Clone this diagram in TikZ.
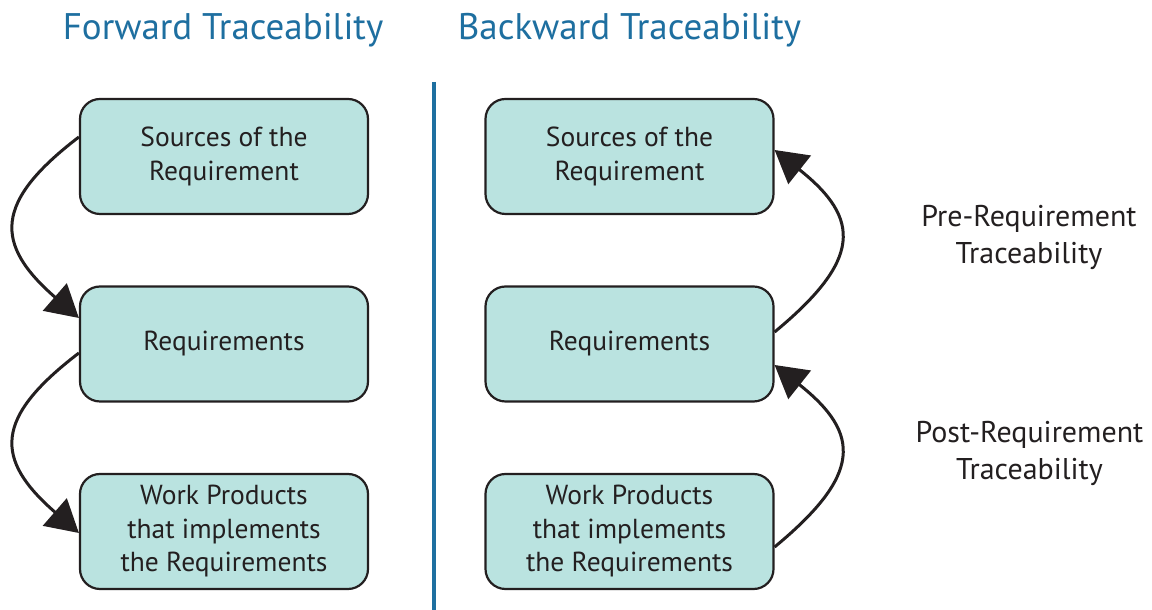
\documentclass[tikz,border=0pt]{standalone}
\usepackage{fontspec}
\setmainfont{PT Sans}
\usetikzlibrary{arrows.meta,calc}
\definecolor{boxfill}{HTML}{BAE3E0}
\definecolor{boxline}{HTML}{231F20}
\definecolor{titleblue}{HTML}{1E6FA0}
\begin{document}
\begin{tikzpicture}[x=1pt,y=1pt,
  tbox/.style={draw=boxline,line width=2.2pt,fill=boxfill,rounded corners=20pt,
    minimum width=288pt,minimum height=115pt,align=center,text=boxline,
    font=\fontsize{27.5}{33.5}\selectfont,inner sep=0pt},
  ttitle/.style={text=titleblue,font=\fontsize{37}{44}\selectfont,inner sep=0pt},
  tlabel/.style={text=boxline,align=center,font=\fontsize{30}{37}\selectfont,inner sep=0pt},
  tarrow/.style={line width=3pt,draw=boxline,-{Triangle[length=32pt,width=36pt]}}]
\useasboundingbox (0,0) rectangle (1152,610);
\node[ttitle] (tf) at (223,580) {Forward Traceability};
\node[ttitle] (tb) at (629.5,580) {Backward Traceability};
\coordinate (dtop) at (434,528);
\coordinate (dbot) at (434,0);
\draw[titleblue,line width=4.5pt] (dtop) -- (dbot);
% left column
\node[tbox] (ls) at (224,453.5) {Sources of the\\Requirement};
\node[tbox] (lr) at (224,266) {Requirements};
\node[tbox] (lw) at (224,78.5) {Work Products\\that implements\\the Requirements};
% right column
\node[tbox] (rs) at (629.5,453.5) {Sources of the\\Requirement};
\node[tbox] (rr) at (629.5,266) {Requirements};
\node[tbox] (rw) at (629.5,78.5) {Work Products\\that implements\\the Requirements};
% labels
\node[tlabel] (lpre) at (1029,372.5) {Pre-Requirement\\Traceability};
\node[tlabel] (lpost) at (1029.5,157) {Post-Requirement\\Traceability};
% arrows
\draw[tarrow] ($(ls.west)+(0,19.5)$) .. controls +(-85,-65) and +(-85,74) .. ($(lr.west)+(0,26)$);
\draw[tarrow] ($(lr.west)+(0,-9)$) .. controls +(-85,-65) and +(-85,74) .. ($(lw.west)+(0,-1.5)$);
\draw[tarrow] ($(rr.east)+(0,12)$) .. controls +(87,72) and +(87,-69) .. ($(rs.east)+(0,6.5)$);
\draw[tarrow] ($(rw.east)+(0,-15.5)$) .. controls +(87,72) and +(87,-69) .. ($(rr.east)+(0,-21)$);
\end{tikzpicture}
\end{document}
